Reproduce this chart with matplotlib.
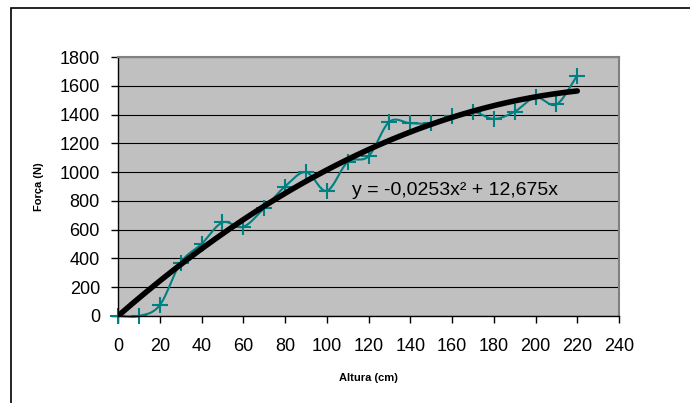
import numpy as np
import matplotlib
matplotlib.use("Agg")
import matplotlib.pyplot as plt
from matplotlib.patches import Rectangle

plt.rcParams['font.family'] = ['Liberation Sans', 'DejaVu Sans']

altura = [0, 10, 20, 30, 40, 50, 60, 70, 80, 90, 100, 110,
          120, 130, 140, 150, 160, 170, 180, 190, 200, 210, 220]
forca = [0, 0, 75, 370, 500, 650, 620, 750, 900, 1000, 870, 1070,
         1110, 1350, 1340, 1340, 1390, 1420, 1370, 1420, 1520, 1470, 1670]
coef_a = -0.0253
coef_b = 12.675
equacao = "y = -0,0253x² + 12,675x"


def smooth(xs, ys, n=20):
    # catmull-rom, close enough to excel's smoothed line
    xs = np.asarray(xs, float)
    ys = np.asarray(ys, float)
    px = np.concatenate([[2 * xs[0] - xs[1]], xs, [2 * xs[-1] - xs[-2]]])
    py = np.concatenate([[2 * ys[0] - ys[1]], ys, [2 * ys[-1] - ys[-2]]])
    out_x, out_y = [], []
    t = np.linspace(0, 1, n, endpoint=False)
    for i in range(1, len(px) - 2):
        for p, out in ((px, out_x), (py, out_y)):
            p0, p1, p2, p3 = p[i - 1], p[i], p[i + 1], p[i + 2]
            out.extend(0.5 * (2 * p1 + (-p0 + p2) * t
                              + (2 * p0 - 5 * p1 + 4 * p2 - p3) * t ** 2
                              + (-p0 + 3 * p1 - 3 * p2 + p3) * t ** 3))
    out_x.append(xs[-1])
    out_y.append(ys[-1])
    return out_x, out_y


fig = plt.figure(figsize=(6.9, 4.03), dpi=100)
fig.patches.append(Rectangle((11 / 690, -0.1), 1.2, 1 - 8 / 403 + 0.1,
                             transform=fig.transFigure, fill=False,
                             edgecolor='black', linewidth=1.2))

ax = fig.add_axes([118 / 690, 1 - 316 / 403, 501 / 690, 259 / 403])
ax.set_facecolor('#c0c0c0')
ax.set_xlim(0, 240)
ax.set_ylim(0, 1800)
ax.set_xticks(range(0, 241, 20))
ax.set_yticks(range(0, 1801, 200))
ax.grid(axis='y', color='black', linewidth=0.8)
ax.set_axisbelow(True)

sx, sy = smooth(altura, forca)
ax.plot(sx, sy, color='#008080', linewidth=1.5, clip_on=False)
ax.plot(altura, forca, linestyle='none', marker='+', markersize=11,
        markeredgewidth=1.5, color='#008080', clip_on=False)

xt = np.linspace(0, 220, 200)
ax.plot(xt, coef_a * xt ** 2 + coef_b * xt, color='black', linewidth=4,
        solid_capstyle='round')

ax.text(112, 870, equacao, fontsize=14, ha='left', va='center')

for s in ['top', 'right']:
    ax.spines[s].set_color('#808080')
    ax.spines[s].set_linewidth(1.5)
for s in ['left', 'bottom']:
    ax.spines[s].set_color('black')
    ax.spines[s].set_linewidth(1)

ax.tick_params(direction='out', length=5, width=1, labelsize=13)
ax.tick_params(axis='y', pad=8)
ax.tick_params(axis='x', pad=11)
ax.set_xlabel('Altura (cm)', fontsize=8, fontweight='bold', labelpad=13)
ax.set_ylabel('Força (N)', fontsize=8, fontweight='bold', labelpad=11)

fig.savefig('out.png', dpi=100)
